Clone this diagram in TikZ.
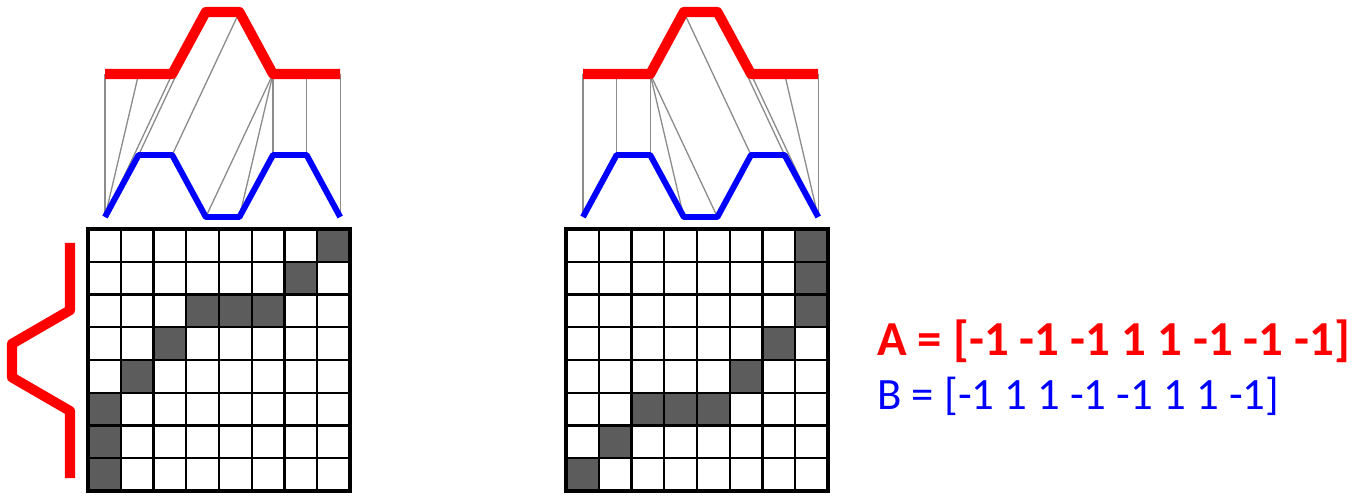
\documentclass[tikz,border=0pt]{standalone}
\usepackage{fontspec}
\setmainfont{Carlito}
\usetikzlibrary{positioning,calc}

\begin{document}
\begin{tikzpicture}[x=0.02cm,y=-0.02cm]
\tikzstyle{redseq}=[draw=red,line width=5.7pt,line join=round]
\tikzstyle{blueseq}=[draw=blue,line width=3.4pt,line join=round]
\tikzstyle{link}=[draw=black!45,line width=0.75pt]
\tikzstyle{cell}=[draw=black,line width=1.4pt]
\tikzstyle{frame}=[draw=black,line width=2.6pt]
\tikzstyle{hit}=[fill=black!64]

\useasboundingbox (0,0) rectangle (1370,496);

% left: sequences and warping links
\foreach \v [count=\i from 0] in {74,74,74,12,12,74,74,74}
  \coordinate (lr\i) at (105+33.6*\i,\v);
\foreach \v [count=\i from 0] in {217,155,155,217,217,155,155,217}
  \coordinate (lb\i) at (105+33.6*\i,\v);
\foreach \a/\b in {0/0,1/0,2/0,3/1,4/2,5/3,5/4,5/5,6/6,7/7}
  \draw[link] (lr\a) -- (lb\b);
\draw[redseq] (lr0) -- (lr1) -- (lr2) -- (lr3) -- (lr4) -- (lr5) -- (lr6) -- (lr7);
\draw[blueseq] (lb0) -- (lb1) -- (lb2) -- (lb3) -- (lb4) -- (lb5) -- (lb6) -- (lb7);

% left: sequence A along the side
\foreach \v [count=\i from 0] in {70,70,70,12,12,70,70,70}
  \coordinate (la\i) at (\v,243+33.6*\i);
\draw[redseq] (la0) -- (la1) -- (la2) -- (la3) -- (la4) -- (la5) -- (la6) -- (la7);

% left: cost matrix with path
\foreach \r/\c in {0/7,1/6,2/3,2/4,2/5,3/2,4/1,5/0,6/0,7/0}
  \fill[hit] (88+32.75*\c,229+32.75*\r) rectangle ++(32.75,32.75);
\foreach \k in {1,...,7} {
  \draw[cell] (88+32.75*\k,229) -- (88+32.75*\k,491);
  \draw[cell] (88,229+32.75*\k) -- (350,229+32.75*\k);
}
\draw[frame] (88,229) rectangle (350,491);

% right: sequences and warping links
\foreach \v [count=\i from 0] in {74,74,74,12,12,74,74,74}
  \coordinate (rr\i) at (583+33.6*\i,\v);
\foreach \v [count=\i from 0] in {217,155,155,217,217,155,155,217}
  \coordinate (rb\i) at (583+33.6*\i,\v);
\foreach \a/\b in {0/0,1/1,2/2,2/3,2/4,3/5,4/6,5/7,6/7,7/7}
  \draw[link] (rr\a) -- (rb\b);
\draw[redseq] (rr0) -- (rr1) -- (rr2) -- (rr3) -- (rr4) -- (rr5) -- (rr6) -- (rr7);
\draw[blueseq] (rb0) -- (rb1) -- (rb2) -- (rb3) -- (rb4) -- (rb5) -- (rb6) -- (rb7);

% right: cost matrix with path
\foreach \r/\c in {0/7,1/7,2/7,3/6,4/5,5/2,5/3,5/4,6/1,7/0}
  \fill[hit] (566+32.75*\c,229+32.75*\r) rectangle ++(32.75,32.75);
\foreach \k in {1,...,7} {
  \draw[cell] (566+32.75*\k,229) -- (566+32.75*\k,491);
  \draw[cell] (566,229+32.75*\k) -- (828,229+32.75*\k);
}
\draw[frame] (566,229) rectangle (828,491);

% the two sequences
\node[anchor=west,inner sep=0pt,text=red,font=\bfseries\fontsize{27.8}{32}\selectfont] (seqA) at (877,341) {A = [-1 -1 -1 1 1 -1 -1 -1]};
\node[anchor=west,inner sep=0pt,text=blue,font=\fontsize{25.5}{30}\selectfont] (seqB) at (877,396) {B = [-1 1 1 -1 -1 1 1 -1]};
\end{tikzpicture}
\end{document}
